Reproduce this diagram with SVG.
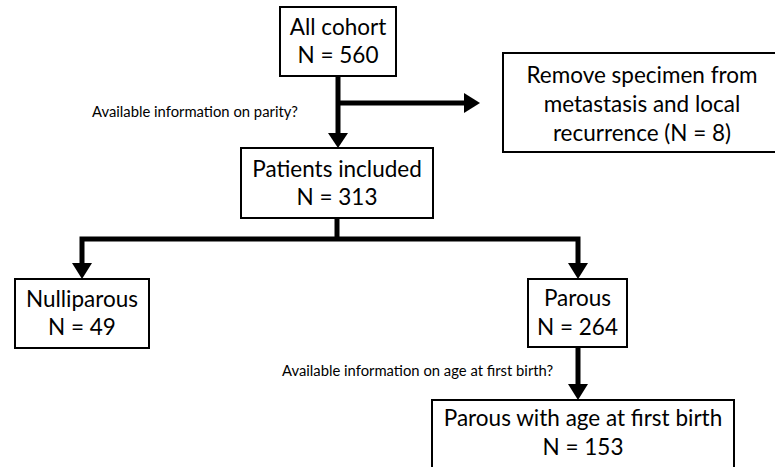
<svg xmlns="http://www.w3.org/2000/svg" width="775" height="467" viewBox="0 0 775 467">
<style>
.box{fill:#fff;stroke:#000;stroke-width:2}
.t{font-family:Lato,"Liberation Sans",sans-serif;font-size:22.5px;fill:#000;text-anchor:middle}
.s{font-family:Lato,"Liberation Sans",sans-serif;font-size:14.8px;fill:#000}
.c{fill:none;stroke:#000;stroke-width:5}
.ah{fill:#000}
</style>
<rect width="775" height="467" fill="#fff"/>
<g id="connectors">
<path class="c" d="M338,76 V133"/>
<path class="ah" d="M328,133 L348,133 L338,148 Z"/>
<path class="c" d="M338,103 H464"/>
<path class="ah" d="M464,93 L464,113 L480,103 Z"/>
<path class="c" d="M337,218 V239"/>
<path class="c" d="M82,263 V239 H578 V263"/>
<path class="ah" d="M72,263 L92,263 L82,279 Z"/>
<path class="ah" d="M568,263 L588,263 L578,279 Z"/>
<path class="c" d="M578,347 V384"/>
<path class="ah" d="M568,384 L588,384 L578,400 Z"/>
</g>
<g id="label-parity"><text class="s" x="92" y="117">Available information on parity?</text></g>
<g id="label-age"><text class="s" x="282" y="376">Available information on age at first birth?</text></g>
<g id="all-cohort">
<rect class="box" x="280" y="7" width="116" height="69"/>
<text class="t" x="338" y="35">All cohort</text>
<text class="t" x="338" y="63">N = 560</text>
</g>
<g id="remove">
<rect class="box" x="503" y="53" width="278" height="99"/>
<text class="t" x="642" y="83">Remove specimen from</text>
<text class="t" x="642" y="112">metastasis and local</text>
<text class="t" x="642" y="141">recurrence (N = 8)</text>
</g>
<g id="patients">
<rect class="box" x="241" y="148" width="192" height="70"/>
<text class="t" x="337" y="177">Patients included</text>
<text class="t" x="337" y="205">N = 313</text>
</g>
<g id="nulliparous">
<rect class="box" x="15" y="279" width="134" height="69"/>
<text class="t" x="82" y="307">Nulliparous</text>
<text class="t" x="82" y="335">N = 49</text>
</g>
<g id="parous">
<rect class="box" x="528" y="279" width="99" height="68"/>
<text class="t" x="577.5" y="306">Parous</text>
<text class="t" x="577.5" y="335">N = 264</text>
</g>
<g id="parous-age">
<rect class="box" x="432" y="400" width="302" height="80"/>
<text class="t" x="583" y="426">Parous with age at first birth</text>
<text class="t" x="583" y="455">N = 153</text>
</g>
</svg>
